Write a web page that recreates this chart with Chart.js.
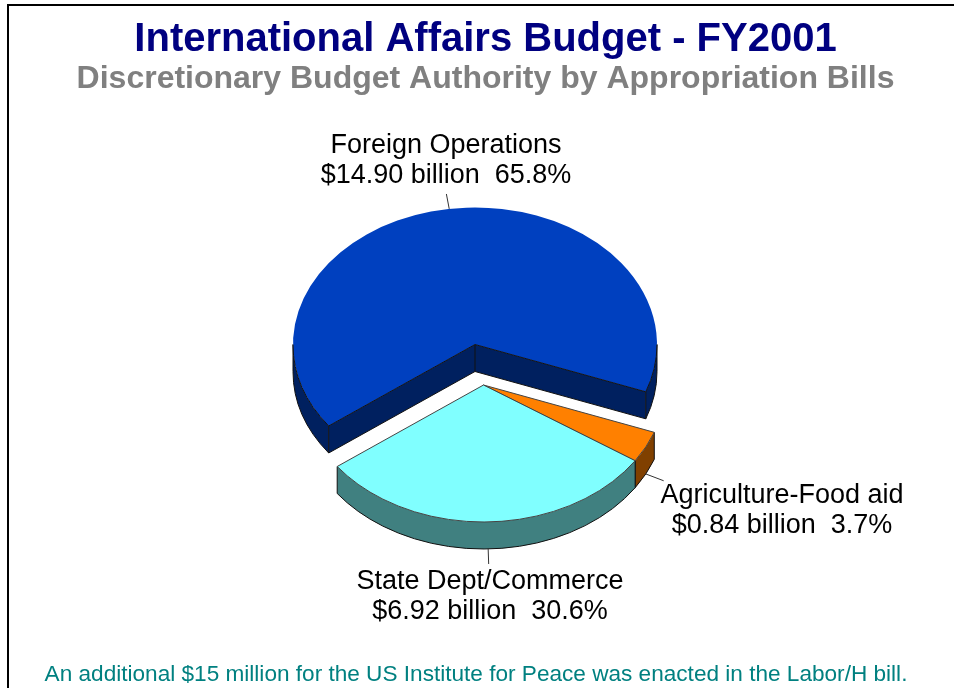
<!DOCTYPE html>
<html>
<head>
<meta charset="utf-8">
<script src="https://cdn.jsdelivr.net/npm/chart.js@4"></script>
<style>
html,body{margin:0;padding:0;background:#fff;overflow:hidden}
canvas{display:block}
</style>
</head>
<body>
<canvas id="c" width="954" height="688"></canvas>
<script>
const categories = ['Foreign Operations', 'Agriculture-Food aid', 'State Dept/Commerce'];
const billions = [14.90, 0.84, 6.92];
const percents = [65.8, 3.7, 30.6];
const topColors = ['#0040BF', '#FF8000', '#80FFFF'];
const wallColors = ['#00205F', '#804000', '#408080'];
const titleText = 'International Affairs Budget - FY2001';
const subtitleText = 'Discretionary Budget Authority by Appropriation Bills';
const footerText = 'An additional $15 million for the US Institute for Peace was enacted in the Labor/H bill.';

const FONT = '"Liberation Sans", Arial, sans-serif';
const PIE = {x: 475, y: 344.5, squash: 0.7527, depth: 27};
const explode = [[0, 0], [8.5, 40.5], [8.5, 40.5]];
const labelAnchors = [[446, 161], [782, 511], [490, 597]];

const pie3d = {
  id: 'pie3d',
  beforeDatasetsDraw(chart) {
    const ctx = chart.ctx;
    const arcs = chart.getDatasetMeta(0).data;
    const TAU = Math.PI * 2;
    arcs.forEach((arc, i) => {
      const a = arc.getProps(['x', 'y', 'startAngle', 'endAngle', 'outerRadius'], true);
      const r = a.outerRadius;
      const ry = r * PIE.squash;
      const ox = PIE.x + explode[i][0], oy = PIE.y + explode[i][1];
      const d = PIE.depth;
      const px = (ang, dy, k = 1) => [ox + Math.cos(ang) * r * k, oy + Math.sin(ang) * ry * k + dy];

      const wedge = () => {
        ctx.beginPath();
        ctx.ellipse(ox, oy, r, ry, 0, a.startAngle, a.endAngle);
        ctx.lineTo(ox, oy);
        ctx.closePath();
      };
      const lowerRanges = [];
      for (let k = -1; k <= 2; k++) {
        const s = Math.max(a.startAngle, k * TAU), e = Math.min(a.endAngle, k * TAU + Math.PI);
        if (e > s) lowerRanges.push([s, e]);
      }
      const seg = (p, q) => { ctx.beginPath(); ctx.moveTo(p[0], p[1]); ctx.lineTo(q[0], q[1]); ctx.stroke(); };
      const quad = (t) => {
        const p = px(t, 0);
        ctx.beginPath();
        ctx.moveTo(ox, oy); ctx.lineTo(p[0], p[1]); ctx.lineTo(p[0], p[1] + d); ctx.lineTo(ox, oy + d);
        ctx.closePath(); ctx.fill();
      };
      const startFaceVisible = Math.cos(a.startAngle) < 0;
      const endFaceVisible = Math.cos(a.endAngle) > 0;

      ctx.save();
      ctx.fillStyle = wallColors[i];
      if (startFaceVisible) quad(a.startAngle);
      if (endFaceVisible) quad(a.endAngle);
      lowerRanges.forEach(([s, e]) => {
        ctx.beginPath();
        ctx.ellipse(ox, oy, r, ry, 0, s, e);
        ctx.ellipse(ox, oy + d, r, ry, 0, e, s, true);
        ctx.closePath();
        ctx.fill();
      });
      ctx.strokeStyle = '#111';
      ctx.lineWidth = 1;
      lowerRanges.forEach(([s, e]) => {
        ctx.beginPath();
        ctx.ellipse(ox, oy + d, r, ry, 0, s, e);
        ctx.stroke();
      });
      if (startFaceVisible) seg([ox, oy + d], px(a.startAngle, d));
      if (endFaceVisible) seg([ox, oy + d], px(a.endAngle, d));
      [a.startAngle, a.endAngle].forEach(t => seg(px(t, 0), px(t, d)));
      if (startFaceVisible && endFaceVisible) seg([ox, oy], [ox, oy + d]);
      for (let k = -1; k <= 2; k++) {
        [k * TAU, k * TAU + Math.PI].forEach(t => {
          if (t > a.startAngle && t < a.endAngle) seg(px(t, 0), px(t, d));
        });
      }
      ctx.fillStyle = topColors[i];
      wedge(); ctx.fill();
      ctx.strokeStyle = i === 0 ? '#111' : '#444';
      lowerRanges.forEach(([s, e]) => {
        ctx.beginPath();
        ctx.ellipse(ox, oy, r, ry, 0, s, e);
        ctx.stroke();
      });
      seg([ox, oy], px(a.startAngle, 0));
      seg([ox, oy], px(a.endAngle, 0));

      // leader line
      const mid = (a.startAngle + a.endAngle) / 2;
      const dy = Math.sin(mid) > 0 ? d : 0;
      ctx.strokeStyle = '#333';
      seg(px(mid, dy), px(mid, dy, 1.11));
      ctx.restore();
    });
    return false;
  },
  afterDraw(chart) {
    const ctx = chart.ctx;
    ctx.save();
    ctx.strokeStyle = '#000';
    ctx.lineWidth = 2;
    ctx.beginPath();
    ctx.moveTo(8, 688); ctx.lineTo(8, 5); ctx.lineTo(954, 5);
    ctx.stroke();
    ctx.textAlign = 'center';
    ctx.textBaseline = 'middle';
    ctx.fillStyle = '#000';
    ctx.font = '27px ' + FONT;
    categories.forEach((name, i) => {
      const [lx, ly] = labelAnchors[i];
      ctx.fillText(name, lx, ly - 15);
      ctx.fillText('$' + billions[i].toFixed(2) + ' billion  ' + percents[i].toFixed(1) + '%', lx, ly + 15);
    });
    ctx.fillStyle = '#008080';
    ctx.font = '22.6px ' + FONT;
    ctx.fillText(footerText, 476, 675);
    ctx.restore();
  }
};

new Chart(document.getElementById('c'), {
  type: 'pie',
  data: {
    labels: categories,
    datasets: [{ data: billions, backgroundColor: topColors, borderWidth: 0 }]
  },
  options: {
    responsive: false,
    animation: false,
    devicePixelRatio: 1,
    rotation: 233.5,
    layout: { padding: { left: 17, right: 0, top: 0, bottom: 161 } },
    plugins: {
      legend: { display: false },
      tooltip: { enabled: false },
      title: {
        display: true, text: titleText, color: '#000080',
        font: { family: FONT, size: 40, weight: 'bold', lineHeight: 1 },
        padding: { top: 19.5, bottom: 0 }
      },
      subtitle: {
        display: true, text: subtitleText, color: '#808080',
        font: { family: FONT, size: 32, weight: 'bold', lineHeight: 1 },
        padding: { top: 4, bottom: 67.5 }
      }
    }
  },
  plugins: [pie3d]
});
</script>
</body>
</html>
